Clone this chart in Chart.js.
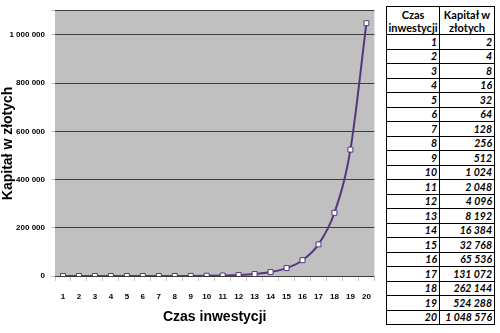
<!DOCTYPE html>
<html>
<head>
<meta charset="utf-8">
<script src="https://cdn.jsdelivr.net/npm/chart.js@4"></script>
<style>
  html, body { margin: 0; padding: 0; background: #fff; }
  #wrap { position: relative; width: 500px; height: 333px; overflow: hidden; }
  #chartBox { position: absolute; left: 0; top: 0; width: 382px; height: 333px; }
  #tbl {
    position: absolute; left: 386px; top: 6px; width: 108px; table-layout: fixed;
    border-collapse: collapse; border: 1.5px solid #000;
    font-family: "Lato", "Noto Sans", sans-serif; font-size: 10.5px; color: #000;
  }
  #tbl th { font-weight: bold; font-size: 11px; line-height: 13px; height: 27px; padding: 0; border: 1px solid #000; text-align: center; white-space: nowrap; }
  #tbl td { font-weight: bold; font-style: italic; height: 13.5px; line-height: 12px; padding: 0 2px 0 0; border: 1px solid #000; text-align: right; white-space: nowrap; }
</style>
</head>
<body>
<div id="wrap">
  <div id="chartBox"><canvas id="chart"></canvas></div>
  <table id="tbl"><colgroup><col style="width:53px"><col style="width:55px"></colgroup></table>
</div>
<script>
// dane z wykresu
const years = [1, 2, 3, 4, 5, 6, 7, 8, 9, 10, 11, 12, 13, 14, 15, 16, 17, 18, 19, 20];
const capital = [2, 4, 8, 16, 32, 64, 128, 256, 512, 1024, 2048, 4096, 8192,
                 16384, 32768, 65536, 131072, 262144, 524288, 1048576];
const yTicks = [0, 200000, 400000, 600000, 800000, 1000000];
const yTop = 1100000;   // górna krawędź obszaru wykresu
const headers = [["Czas", "inwestycji"], ["Kapitał w", "złotych"]];
const xTitle = "Czas inwestycji";
const yTitle = "Kapitał w złotych";

// liczby z odstępem co 3 cyfry: 1 048 576
function fmt(n) {
  return String(n).replace(/\B(?=(\d{3})+(?!\d))/g, " ");
}

/* ---- tabela po prawej ---- */
function buildTable() {
  const tbl = document.getElementById("tbl");
  let html = "<tr>" + headers.map(h => "<th>" + h.join("<br>") + "</th>").join("") + "</tr>";
  years.forEach((y, i) => {
    html += "<tr><td>" + y + "</td><td>" + fmt(capital[i]) + "</td></tr>";
  });
  tbl.insertAdjacentHTML("beforeend", html);
}

/* ---- szare tło obszaru wykresu ---- */
const plotBg = {
  id: "plotBg",
  beforeDraw(c) {
    const a = c.chartArea, ctx = c.ctx;
    ctx.save();
    ctx.fillStyle = "#c0c0c0";
    ctx.fillRect(a.left, a.top, a.right - a.left, a.bottom - a.top);
    ctx.restore();
  }
};

const narrow = "'Liberation Sans Narrow', 'Arial Narrow', 'Liberation Sans', sans-serif";

buildTable();

new Chart(document.getElementById("chart"), {
  type: "line",
  data: {
    labels: years,
    datasets: [{
      data: capital,
      borderColor: "#54387f",
      borderWidth: 2,
      cubicInterpolationMode: "monotone",
      pointStyle: "rect",
      pointRadius: 3.5,
      pointBorderWidth: 1,
      pointBackgroundColor: "#ffffff",
      pointBorderColor: "#54387f"
    }]
  },
  options: {
    responsive: true, maintainAspectRatio: false, animation: false,
    layout: { padding: { left: 0, right: 6, top: 6, bottom: 0 } },
    plugins: { legend: { display: false }, tooltip: { enabled: false } },
    scales: {
      x: {
        offset: true,
        grid: { offset: true, drawOnChartArea: false, color: "#c8c8c8", tickLength: 5 },
        border: { display: false },
        ticks: { color: "#000", padding: 11, font: { family: narrow, size: 8, weight: "bold" }, maxRotation: 0, autoSkip: false },
        title: { display: true, text: xTitle, color: "#000",
                 font: { family: narrow, size: 14, weight: "bold" }, padding: { top: 4, bottom: 7 } },
        afterFit: s => { s.height = 57; }
      },
      y: {
        min: 0, max: yTop,
        afterBuildTicks: s => { s.ticks = yTicks.concat([yTop]).map(v => ({ value: v })); },
        grid: { color: "#3c3c3c", lineWidth: 1, tickLength: 4, tickColor: "#c8c8c8" },
        border: { display: false },
        ticks: {
          color: "#000", padding: 6,
          font: { family: narrow, size: 8, weight: "bold" },
          callback: v => (yTicks.includes(v) ? fmt(v) : "")
        },
        title: { display: true, text: yTitle, color: "#000",
                 font: { family: "'Liberation Sans', Arial, sans-serif", size: 14, weight: "bold" }, padding: { top: 0, bottom: 1 } },
        afterFit: s => { s.width = 55; }
      }
    }
  },
  plugins: [plotBg]
});
</script>
</body>
</html>
